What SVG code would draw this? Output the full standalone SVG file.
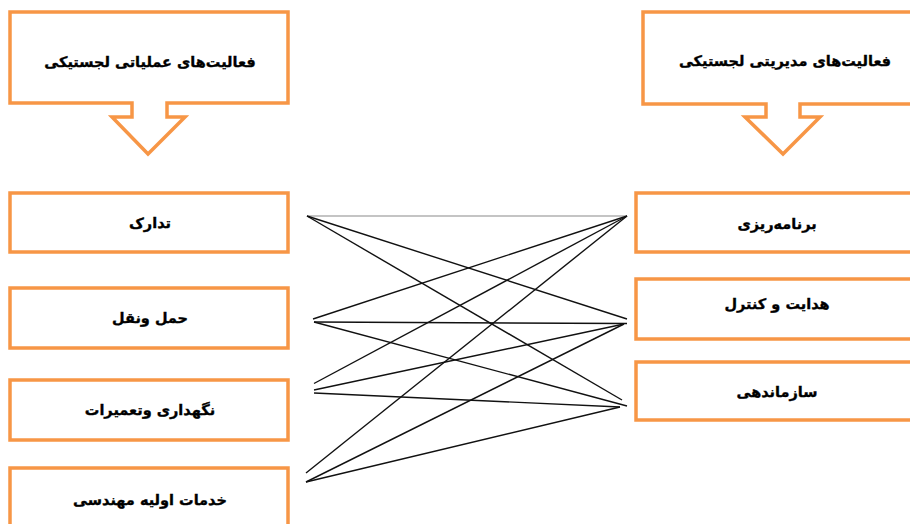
<svg xmlns="http://www.w3.org/2000/svg" width="910" height="524" viewBox="0 0 910 524">
<style>
.box{fill:#fff;stroke:#F79646;stroke-width:3.5}
.lbl{font-family:"DejaVu Sans","Noto Sans",sans-serif;font-weight:bold;font-size:14.5px;fill:#000;stroke:#000;stroke-width:0.35;text-anchor:middle}
.c{stroke:#111;stroke-width:1.4;fill:none}
.cg{stroke:#8a8a8a;stroke-width:1.1;fill:none}
</style>
<rect width="910" height="524" fill="#fff"/>
<g id="hdr-ops">
<path class="box" d="M10,12 H288 V103 H167 V117 H185 L148,154 L112,117 H132 V103 H10 Z"/>
<text class="lbl" x="150" y="67" direction="rtl">فعالیت‌های عملیاتی لجستیکی</text>
</g>
<g id="hdr-mgmt">
<path class="box" d="M643,12 H915 V104 H800 V117 H820 L783,154 L745,117 H766 V104 H643 Z"/>
<text class="lbl" x="785" y="66" direction="rtl">فعالیت‌های مدیریتی لجستیکی</text>
</g>
<g id="n-tadarok">
<rect class="box" x="10" y="193" width="278" height="59"/>
<text class="lbl" x="150" y="228" direction="rtl">تدارک</text>
</g>
<g id="n-haml">
<rect class="box" x="10" y="288" width="278" height="60"/>
<text class="lbl" x="150" y="323" direction="rtl">حمل ونقل</text>
</g>
<g id="n-negahdari">
<rect class="box" x="10" y="380" width="278" height="60"/>
<text class="lbl" x="150" y="415" direction="rtl">نگهداری وتعمیرات</text>
</g>
<g id="n-khadamat">
<rect class="box" x="10" y="468" width="278" height="70"/>
<text class="lbl" x="150" y="505" direction="rtl">خدمات اولیه مهندسی</text>
</g>
<g id="n-barnameh">
<rect class="box" x="636" y="193" width="280" height="59"/>
<text class="lbl" x="777" y="229" direction="rtl">برنامه‌ریزی</text>
</g>
<g id="n-hedayat">
<rect class="box" x="636" y="279" width="280" height="60"/>
<text class="lbl" x="777" y="309" direction="rtl">هدایت و کنترل</text>
</g>
<g id="n-sazmandehi">
<rect class="box" x="636" y="362" width="280" height="58"/>
<text class="lbl" x="777" y="397" direction="rtl">سازماندهی</text>
</g>
<g id="connectors">
<line class="cg" x1="307" y1="216" x2="627" y2="216"/>
<line class="c" x1="307" y1="216" x2="627" y2="319"/>
<line class="c" x1="307" y1="216" x2="622" y2="400"/>
<line class="c" x1="313" y1="319" x2="627" y2="216"/>
<line class="c" x1="314" y1="322" x2="627" y2="323.5"/>
<line class="c" x1="314" y1="322" x2="627" y2="406"/>
<line class="c" x1="314" y1="383.5" x2="627" y2="216"/>
<line class="c" x1="314" y1="390" x2="624" y2="324"/>
<line class="c" x1="314" y1="393" x2="620" y2="407"/>
<line class="c" x1="306" y1="473" x2="627" y2="216"/>
<line class="c" x1="306" y1="482" x2="624" y2="324"/>
<line class="c" x1="306" y1="482" x2="620" y2="407"/>
</g>
</svg>
